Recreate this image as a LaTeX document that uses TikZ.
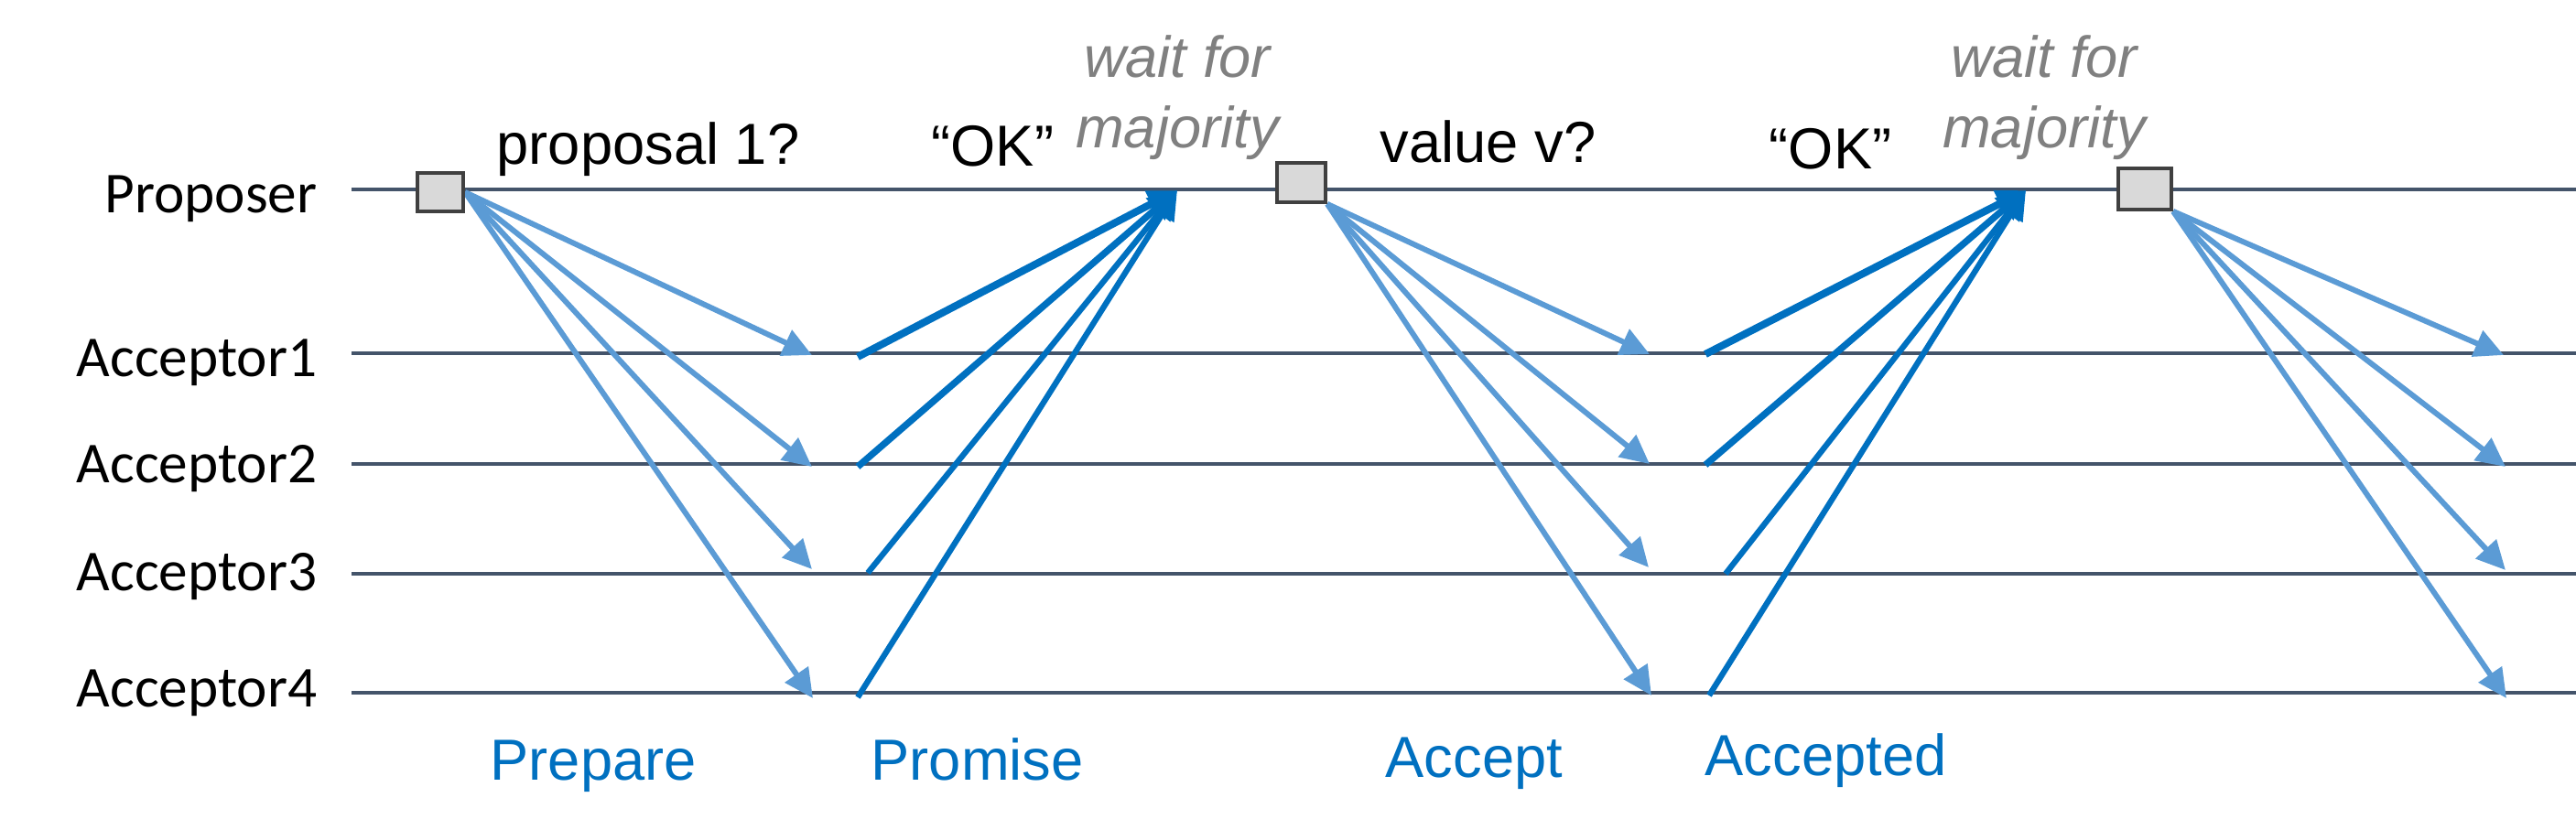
\documentclass[tikz,border=0pt]{standalone}
\usepackage{fontspec}
\setmainfont{Liberation Sans}
\newfontfamily\rolefont{Carlito}
\usetikzlibrary{arrows.meta}
\definecolor{lifeline}{HTML}{44546A}
\definecolor{reqblue}{HTML}{5B9BD5}
\definecolor{ackblue}{HTML}{0070C0}
\definecolor{waitgray}{HTML}{808080}
\definecolor{boxgray}{HTML}{D9D9D9}
\definecolor{boxedge}{HTML}{404040}
\begin{document}
\begin{tikzpicture}[x=1cm,y=-1cm]
    \tikzset{role/.style=    {font=\rolefont\fontsize{18}{21}\selectfont,
                              anchor=base east,
                              inner sep=0pt},
             life/.style=    {draw=lifeline,
                              line width=1pt},
             sendbox/.style= {draw=boxedge,
                              fill=boxgray,
                              line width=1.1pt,
                              inner sep=0pt},
             msg/.style=     {font=\fontsize{18}{21}\selectfont,
                              anchor=base west,
                              inner sep=0pt},
             wait/.style=    {font=\itshape\fontsize{18}{21.8}\selectfont,
                              text=waitgray,
                              align=center,
                              anchor=south,
                              inner sep=0pt},
             phase/.style=   {font=\fontsize{18}{21}\selectfont,
                              text=ackblue,
                              anchor=base west,
                              inner sep=0pt},
             req/.style=     {draw=reqblue,
                              line width=1.7pt,
                              -{Triangle[length=9pt,width=8.5pt]}},
             ack/.style=     {draw=ackblue,
                              line width=1.8pt,
                              -{Triangle[length=9pt,width=8.5pt]}},
            }
    \useasboundingbox (0,0) rectangle (28.14,9.07);
    % roles and their lifelines
    \path
    (3.47,2.33)  node[role](prop) {Proposer}
    (3.47,4.12)  node[role](acc1) {Acceptor1}
    (3.47,5.27)  node[role](acc2) {Acceptor2}
    (3.47,6.45)  node[role](acc3) {Acceptor3}
    (3.47,7.72)  node[role](acc4) {Acceptor4}
    ;
    \coordinate (propL) at (3.84,2.07);  \coordinate (propR) at (28.14,2.07);
    \coordinate (acc1L) at (3.84,3.86);  \coordinate (acc1R) at (28.14,3.86);
    \coordinate (acc2L) at (3.84,5.07);  \coordinate (acc2R) at (28.14,5.07);
    \coordinate (acc3L) at (3.84,6.27);  \coordinate (acc3R) at (28.14,6.27);
    \coordinate (acc4L) at (3.84,7.57);  \coordinate (acc4R) at (28.14,7.57);
    \draw[life] (propL) -- (propR);
    \draw[life] (acc1L) -- (acc1R);
    \draw[life] (acc2L) -- (acc2R);
    \draw[life] (acc3L) -- (acc3R);
    \draw[life] (acc4L) -- (acc4R);
    % message ends
    \coordinate (prep1) at (8.87,3.88);  \coordinate (prom1) at (9.37,3.90);
    \coordinate (prep2) at (8.87,5.10);  \coordinate (prom2) at (9.37,5.10);
    \coordinate (prep3) at (8.87,6.22);  \coordinate (prom3) at (9.48,6.26);
    \coordinate (prep4) at (8.88,7.63);  \coordinate (prom4) at (9.37,7.62);
    \coordinate (acpt1) at (18.02,3.87); \coordinate (acpd1) at (18.63,3.87);
    \coordinate (acpt2) at (18.02,5.07); \coordinate (acpd2) at (18.63,5.08);
    \coordinate (acpt3) at (18.01,6.20); \coordinate (acpd3) at (18.85,6.27);
    \coordinate (acpt4) at (18.04,7.60); \coordinate (acpd4) at (18.67,7.60);
    \coordinate (last1) at (27.35,3.88);
    \coordinate (last2) at (27.37,5.10);
    \coordinate (last3) at (27.37,6.23);
    \coordinate (last4) at (27.38,7.63);
    \coordinate (okay1) at (12.86,2.08);
    \coordinate (okay2) at (22.13,2.08);
    % send points on the proposer line
    \path
    (4.81,2.10)   node[sendbox,minimum width=0.50cm,minimum height=0.42cm](send1) {}
    (14.215,1.995) node[sendbox,minimum width=0.53cm,minimum height=0.43cm](send2) {}
    (23.43,2.065) node[sendbox,minimum width=0.58cm,minimum height=0.45cm](send3) {}
    ;
    \draw[req] (send1.east) -- (prep1);
    \draw[req] (send1.east) -- (prep2);
    \draw[req] (send1.east) -- (prep3);
    \draw[req] (send1.east) -- (prep4);
    \draw[ack,line width=2.3pt] (prom1) -- (okay1);
    \draw[ack,line width=2.1pt] (prom2) -- (okay1);
    \draw[ack] (prom3) -- (okay1);
    \draw[ack] (prom4) -- (okay1);
    \draw[req] (send2.south east) -- (acpt1);
    \draw[req] (send2.south east) -- (acpt2);
    \draw[req] (send2.south east) -- (acpt3);
    \draw[req] (send2.south east) -- (acpt4);
    \draw[ack,line width=2.3pt] (acpd1) -- (okay2);
    \draw[ack,line width=2.1pt] (acpd2) -- (okay2);
    \draw[ack] (acpd3) -- (okay2);
    \draw[ack] (acpd4) -- (okay2);
    \draw[req] (send3.south east) -- (last1);
    \draw[req] (send3.south east) -- (last2);
    \draw[req] (send3.south east) -- (last3);
    \draw[req] (send3.south east) -- (last4);
    % boxes again on top of the arrow starts
    \path
    (send1) node[sendbox,minimum width=0.50cm,minimum height=0.42cm] {}
    (send2) node[sendbox,minimum width=0.53cm,minimum height=0.43cm] {}
    (send3) node[sendbox,minimum width=0.58cm,minimum height=0.45cm] {}
    ;
    % texts
    \path
    (5.42,1.80)   node[msg](q1) {proposal 1?}
    (10.17,1.82)  node[msg](ok1) {“OK”}
    (12.86,1.75)  node[wait](w1) {wait for\\majority}
    (15.07,1.78)  node[msg](q2) {value v?}
    (19.32,1.85)  node[msg](ok2) {“OK”}
    (22.33,1.75)  node[wait](w2) {wait for\\majority}
    (5.35,8.52)   node[phase](ph1) {Prepare}
    (9.51,8.52)   node[phase](ph2) {Promise}
    (15.13,8.49)  node[phase](ph3) {Accept}
    (18.62,8.47)  node[phase](ph4) {Accepted}
    ;
\end{tikzpicture}
\end{document}
